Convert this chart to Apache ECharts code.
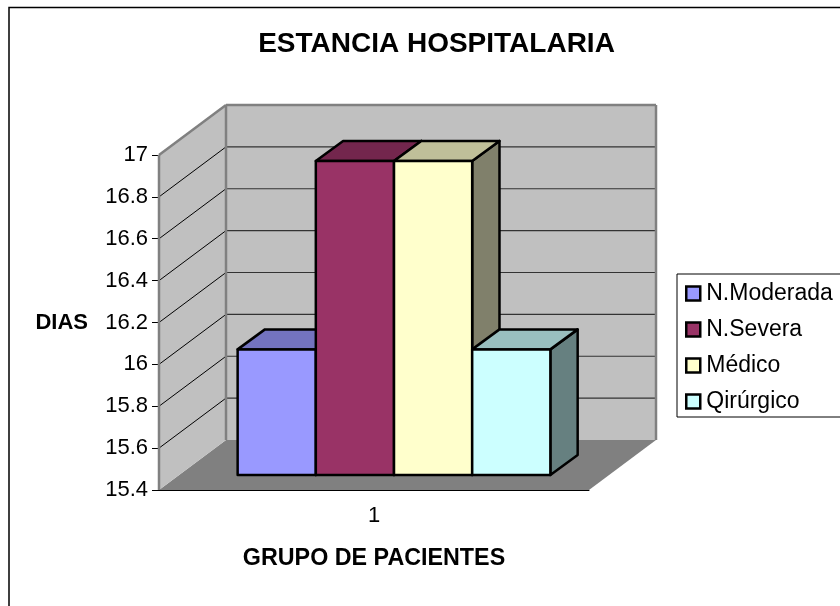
<!DOCTYPE html>
<html>
<head>
<meta charset="utf-8">
<style>html,body{margin:0;padding:0;background:#fff}#main{width:840px;height:606px}</style>
<script src="https://cdn.jsdelivr.net/npm/echarts@6/dist/echarts.min.js"></script>
</head>
<body>
<div id="main"></div>
<script>
var categories=["1"]
var seriesNames=["N.Moderada","N.Severa","Médico","Qirúrgico"]
var nModerada=[16]
var nSevera=[16.9]
var medico=[16.9]
var qirurgico=[16]
var yTicks=[15.4,15.6,15.8,16,16.2,16.4,16.6,16.8,17]

var frontColor=["#9999FF","#993366","#FFFFCC","#CCFFFF"]
var topColor=["#7373BF","#73264D","#BFBF99","#99BFBF"]
var sideColor=["#4D4D80","#4D1A33","#80806B","#668080"]

var font="Liberation Sans"
var wall=[67,-50]//profundidad de las paredes
var shift=[20,-15]//donde empieza la barra
var depth=[27.3,-20]//profundidad de la barra

function off(p,d){return [p[0]+d[0],p[1]+d[1]]}
function poly(points,fill,stroke,width){
	return {type:"polygon",shape:{points:points},style:{fill:fill,stroke:stroke,lineWidth:width,lineJoin:"round"}}
}
function line(a,b,color,width){
	return {type:"line",shape:{x1:a[0],y1:a[1],x2:b[0],y2:b[1]},style:{stroke:color,lineWidth:width}}
}

// paredes, piso y lineas de division
function renderWalls(params,api){
	var band=api.size([1,0])[0]
	var c=api.coord([0,yTicks[0]])
	var t=api.coord([0,yTicks[yTicks.length-1]])
	var a=[c[0]-band/2,c[1]]
	var b=[c[0]+band/2,c[1]]
	var aTop=[a[0],t[1]]
	var bTop=[b[0],t[1]]
	var kids=[]
	kids.push(poly([a,b,off(b,wall),off(a,wall)],"#808080","none",0))
	kids.push(poly([a,aTop,off(aTop,wall),off(a,wall)],"#C0C0C0","none",0))
	kids.push(poly([off(a,wall),off(aTop,wall),off(bTop,wall),off(b,wall)],"#C0C0C0","none",0))
	for(var i=1;i<yTicks.length-1;i++){
		var y=api.coord([0,yTicks[i]])[1]
		kids.push(line([a[0],y],off([a[0],y],wall),"#000",1))
		kids.push(line(off([a[0],y],wall),off([b[0],y],wall),"#333",1.2))
	}
	kids.push(line(a,aTop,"#808080",2.5))
	kids.push(line(aTop,off(aTop,wall),"#808080",2.5))
	kids.push(line(off(aTop,wall),off(bTop,wall),"#808080",2.5))
	kids.push(line(off(bTop,wall),off(b,wall),"#808080",2.5))
	kids.push(line(off(a,wall),off(aTop,wall),"#808080",2.5))
	return {type:"group",silent:true,children:kids}
}

// cada barra en 3D
function renderBar(idx){
	return function(params,api){
		var top=api.coord([api.value(0),api.value(1)])
		var base=api.coord([api.value(0),yTicks[0]])
		var w=api.size([1,0])[0]/5.5
		var x=top[0]-2*w+idx*w
		var p1=off([x,base[1]],shift)
		var p2=off([x+w,base[1]],shift)
		var p3=off([x+w,top[1]],shift)
		var p4=off([x,top[1]],shift)
		return {type:"group",children:[
			poly([p2,p3,off(p3,depth),off(p2,depth)],sideColor[idx],"#000",2.5),
			poly([p4,p3,off(p3,depth),off(p4,depth)],topColor[idx],"#000",2.5),
			poly([p1,p2,p3,p4],frontColor[idx],"#000",2.5)
		]}
	}
}

function barSeries(idx,values){
	return {
		name:seriesNames[idx],
		type:"custom",
		renderItem:renderBar(idx),
		itemStyle:{color:frontColor[idx],borderColor:"#000",borderWidth:2},
		data:values.map(function(v,i){return [i,v]}),
		encode:{x:0,y:1},
		z:3
	}
}

var mychart=echarts.init(document.getElementById("main"),null,{renderer:"canvas"})
var option={
	animation:false,
	backgroundColor:"#fff",
	title:{
		text:"ESTANCIA HOSPITALARIA",
		left:431.5,
		top:25,
		textAlign:"center",
		textStyle:{fontFamily:font,fontSize:28,fontWeight:"bold",color:"#000"}
	},
	legend:{
		left:677,
		top:274,
		orient:"vertical",
		data:seriesNames,
		icon:"rect",
		itemWidth:14,
		itemHeight:14,
		itemGap:13,
		padding:[8,12,4,8],
		backgroundColor:"#fff",
		borderColor:"#000",
		borderWidth:1,
		selectedMode:false,
		itemStyle:{borderColor:"#000",borderWidth:2.5},
		textStyle:{fontFamily:font,fontSize:23,color:"#000",padding:[0,0,0,1]}
	},
	grid:{left:159,right:251,top:155,bottom:116},
	xAxis:{
		type:"category",
		data:categories,
		name:"GRUPO DE PACIENTES",
		nameLocation:"middle",
		nameGap:57,
		nameTextStyle:{fontFamily:font,fontSize:23.3,fontWeight:"bold",color:"#000"},
		axisLine:{lineStyle:{color:"#000",width:1}},
		axisTick:{length:7,lineStyle:{color:"#000"}},
		axisLabel:{fontFamily:font,fontSize:22,color:"#000",margin:15}
	},
	yAxis:{
		type:"value",
		min:15.4,
		max:17,
		interval:0.2,
		name:"DIAS",
		nameLocation:"middle",
		nameRotate:0,
		nameGap:71,
		nameTextStyle:{fontFamily:font,fontSize:22,fontWeight:"bold",color:"#000"},
		splitLine:{show:false},
		axisLine:{show:false},
		axisTick:{show:true,length:7,lineStyle:{color:"#000"}},
		axisLabel:{fontFamily:font,fontSize:22,color:"#000",margin:11,padding:[2,0,0,0]}
	},
	graphic:[{
		type:"rect",
		shape:{x:9,y:7.5,width:900,height:700},
		style:{fill:"none",stroke:"#000",lineWidth:1.5},
		silent:true,
		z:10
	}],
	series:[
		{type:"custom",name:"fondo",renderItem:renderWalls,data:[[0,yTicks[0]]],encode:{x:0,y:1},silent:true,z:1},
		barSeries(0,nModerada),
		barSeries(1,nSevera),
		barSeries(2,medico),
		barSeries(3,qirurgico)
	]
}
mychart.setOption(option)
</script>
</body>
</html>
